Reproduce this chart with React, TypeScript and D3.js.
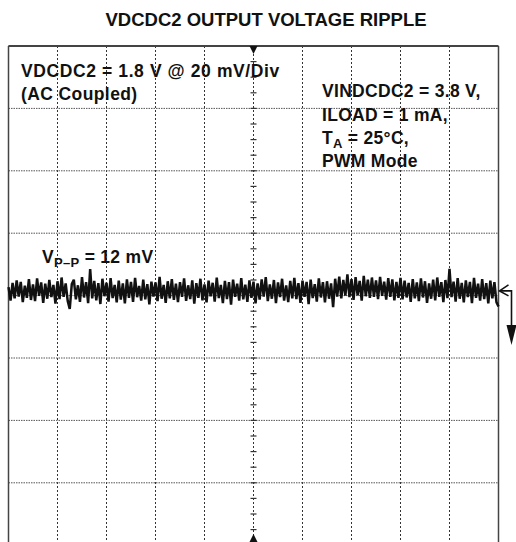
import React from "react";
import * as d3 from "d3";

// scope screen: 10 horizontal divisions, 8 vertical divisions of 20 mV
const xDivs = d3.range(0, 11);
const yDivs = d3.range(-4, 5);
const mvPerDiv = 20;
const groundOffsetMv = 1.5;

// ripple samples (mV around ground) left to right
const rippleMv = [
  1.2, -3.1, 2.6, -2.4, 3.4, -1.8, 2.9, -3.6, 1.7, -2.2, 3.8, -2.9, 2.1, -3.3, 4.0, -1.6, 2.7, -3.8, 2.3, -2.5,
  3.5, -2.0, 1.9, -4.1, 3.1, -2.6, 4.3, -1.9, 2.4, -3.2, -5.8, 2.2, 3.6, -2.7, 1.8, -3.5, 4.4, -2.1, 2.8, -3.9,
  7.0, -2.4, 3.2, -3.0, 2.5, -4.2, 3.9, -1.7, 2.6, -3.4, 4.1, -2.3, 1.9, -3.7, 3.3, -2.8, 2.4, -4.0, 3.7, -2.2,
  2.9, -3.5, 4.2, -2.0, 1.6, -3.1, 3.6, -2.7, 2.2, -4.3, 3.0, -1.8, 2.7, -3.3, 4.5, -2.5, 1.9, -3.8, 3.1, -2.4,
  3.8, -2.9, 2.3, -3.6, 2.8, -1.9, 4.0, -3.2, 1.8, -2.6, 3.4, -4.1, 2.5, -2.2, 3.9, -3.0, 2.1, -3.7, 3.3, -1.7,
  2.6, -3.4, 4.3, -2.3, 1.9, -3.9, 3.2, -2.6, 2.8, -4.4, 3.6, -1.9, 2.3, -3.1, 4.1, -2.7, 2.0, -3.5, 3.4, -2.2,
  3.0, -4.0, 2.4, -2.8, 3.7, -1.8, 4.4, -3.3, 2.1, -2.5, 3.5, -3.9, 2.7, -2.0, 3.9, -3.1, 1.8, -3.6, 3.2, -2.4,
  4.2, -2.6, 2.5, -3.8, 3.3, -1.9, 2.9, -4.2, 3.6, -2.3, 2.2, -3.4, 4.0, -2.1, 2.8, -3.7, 3.1, -2.5, 2.4, -5.2,
  3.9, -1.8, 4.6, -2.4, 3.5, -1.5, 5.3, -2.0, 3.8, -2.9, 4.4, -1.4, 3.2, -3.1, 4.8, -1.7, 3.6, -2.2, 4.3, -1.9,
  3.4, -2.6, 4.5, -1.6, 3.0, -2.8, 4.1, -1.9, 3.7, -3.0, 2.9, -2.2, 4.2, -2.7, 3.3, -2.1, 2.6, -3.5, 3.8, -2.4,
  2.7, -3.3, 4.0, -2.1, 3.1, -3.8, 2.4, -2.5, 3.6, -3.0, 4.3, -1.9, 2.8, -3.6, 3.5, -2.3, 7.1, -2.0, 3.0, -3.4,
  4.1, -2.5, 2.6, -3.7, 3.4, -2.0, 2.9, -3.9, 4.2, -2.2, 2.3, -3.1, 3.8, -2.6, 2.5, -4.0, 3.3, -2.4, 2.8, -3.6,
  -5.0,
];

const W = 516;
const H = 542;
const left = 8.5;
const right = 498.5;
const top = 46;
const divH = 62.4;

function App() {
  const x = d3.scaleLinear().domain([0, 10]).range([left, right]);
  const y = d3.scaleLinear().domain([-4 * mvPerDiv, 4 * mvPerDiv]).range([top + 8 * divH, top]);
  const xi = d3.scaleLinear().domain([0, rippleMv.length - 1]).range([left, right]);

  const line = d3
    .line<number>()
    .x((d, i) => xi(i))
    .y((d) => y(d + groundOffsetMv));

  const minorTicks = d3.range(-4 * mvPerDiv, 4 * mvPerDiv + 0.1, mvPerDiv / 4);
  const gy = y(groundOffsetMv);
  const cx = x(5);
  const bold = { fontFamily: "Liberation Sans, Arial, sans-serif", fontWeight: 700, fill: "#111" };

  return (
    <svg width={W} height={H} style={{ position: "absolute", left: 0, top: 0, background: "#fff" }}>
      <text x={266} y={26} textAnchor="middle" fontSize={18.5} {...bold}>
        VDCDC2 OUTPUT VOLTAGE RIPPLE
      </text>

      {/* grid */}
      {xDivs.slice(1, -1).map((d) => (
        <line key={"v" + d} x1={x(d)} x2={x(d)} y1={top} y2={H} stroke="#333" strokeWidth={1} strokeDasharray="2,2" />
      ))}
      {yDivs.slice(1).map((d) => (
        <line key={"h" + d} x1={left} x2={right} y1={y(d * mvPerDiv)} y2={y(d * mvPerDiv)} stroke="#555" strokeWidth={1} strokeDasharray="1.5,1" />
      ))}
      {minorTicks.map((m) => (
        <line key={"t" + m} x1={cx - 3} x2={cx + 3} y1={y(m)} y2={y(m)} stroke="#333" strokeWidth={1.2} />
      ))}

      {/* frame */}
      <line x1={left} x2={left} y1={top} y2={H} stroke="#444" strokeWidth={1.5} />
      <line x1={right} x2={right} y1={top} y2={H} stroke="#444" strokeWidth={1.5} />
      <line x1={left} x2={right} y1={top} y2={top} stroke="#444" strokeWidth={2} />
      <path d={`M${cx - 4},${top} L${cx + 4},${top} L${cx},${top + 8} Z`} fill="#111" />
      <path d={`M${cx - 4},${H} L${cx + 4},${H} L${cx},${H - 8} Z`} fill="#111" />

      {/* trace */}
      <path d={line(rippleMv) || ""} fill="none" stroke="#111" strokeWidth={2.5} strokeLinejoin="bevel" />

      {/* ground marker and offset arrow */}
      <path d={`M${right + 10},${gy - 6} L${right + 1},${gy} L${right + 10},${gy + 5}`} fill="none" stroke="#111" strokeWidth={1.6} />
      <path d={`M${right + 2},${gy} L${right + 13},${gy} L${right + 13},${gy + 36}`} fill="none" stroke="#111" strokeWidth={1.6} />
      <path d={`M${right + 8},${gy + 34} L${right + 18},${gy + 34} L${right + 13},${gy + 54} Z`} fill="#111" />

      {/* annotations */}
      <text x={21} y={77} fontSize={17.5} letterSpacing={0.6} {...bold}>
        VDCDC2 = 1.8 V @ 20 mV/Div
      </text>
      <text x={21} y={100} fontSize={17.5} letterSpacing={0.4} {...bold}>
        (AC Coupled)
      </text>
      <text x={322} y={97} fontSize={17.5} letterSpacing={0.3} {...bold}>
        VINDCDC2 = 3.8 V,
      </text>
      <text x={322} y={121} fontSize={17.5} letterSpacing={0.3} {...bold}>
        ILOAD = 1 mA,
      </text>
      <text x={322} y={144} fontSize={17.5} letterSpacing={0.3} {...bold}>
        T<tspan fontSize={13} dy={4}>A</tspan>
        <tspan dy={-4}> = 25°C,</tspan>
      </text>
      <text x={322} y={167} fontSize={17.5} letterSpacing={0.3} {...bold}>
        PWM Mode
      </text>
      <text x={42} y={263} fontSize={17.5} letterSpacing={0.3} {...bold}>
        V<tspan fontSize={13} dy={4}>P–P</tspan>
        <tspan dy={-4}> = 12 mV</tspan>
      </text>
    </svg>
  );
}

export default App;
